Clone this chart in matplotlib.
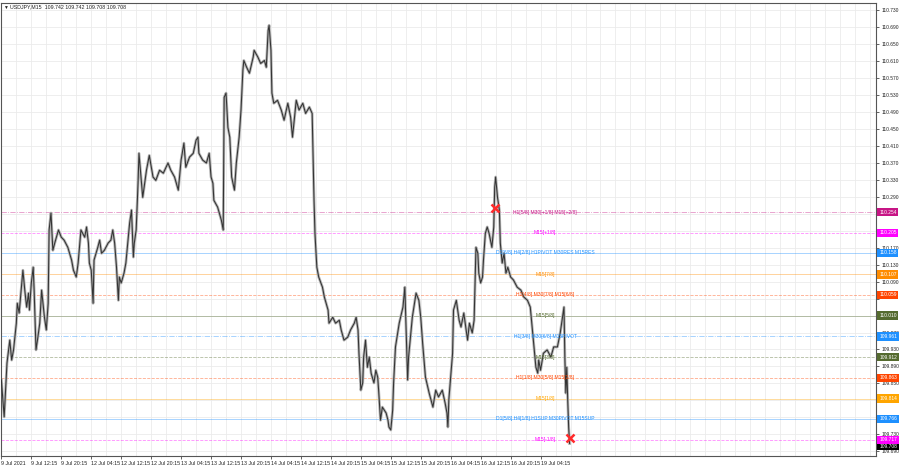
import numpy as np
import matplotlib
matplotlib.use("Agg")
import matplotlib.pyplot as plt
import matplotlib.transforms as mtransforms

plt.rcParams['font.family'] = ['Liberation Sans', 'DejaVu Sans']

# price path (bar index of M15 bars, price)
bars = [0, 3, 6, 9, 11, 13, 16, 17, 19, 23, 25, 27, 29, 30, 32, 34, 35, 37, 39, 41,
        43, 46, 48, 50, 51, 53, 55, 57, 61, 64, 67, 71, 75, 77, 80, 82, 85, 89, 91, 93,
        94, 96, 98, 99, 103, 105, 107, 110, 114, 117, 119, 121, 123, 125, 126, 128, 131, 133, 137, 139,
        141, 142, 144, 146, 147, 151, 155, 158, 162, 165, 169, 173, 178, 181, 185, 189, 192, 195, 197, 201,
        205, 208, 210, 211, 215, 219, 222, 224, 226, 227, 231, 235, 237, 238, 240, 242, 244, 246, 249, 251,
        254, 256, 258, 259, 262, 265, 269, 270, 274, 277, 281, 283, 285, 286, 288, 289, 291, 295, 299, 302,
        306, 309, 311, 315, 318, 322, 325, 329, 332, 333, 334, 335, 337, 339, 343, 345, 349, 350, 354, 357,
        361, 363, 366, 370, 373, 377, 379, 381, 382, 384, 386, 387, 389, 391, 393, 395, 398, 400, 402, 403,
        405, 407, 411, 413, 414, 416, 418, 419, 421, 425, 429, 431, 432, 434, 435, 439, 443, 446, 448, 450,
        453, 457, 461, 464, 467, 471, 474, 476, 477, 478, 482, 483, 486, 489, 491, 494, 498, 500, 503, 505,
        507, 509, 510, 512, 514, 515, 517, 519, 521, 524, 526, 527, 528, 530, 532, 533, 535, 537, 539, 541,
        544, 547, 551, 555, 558, 562, 565, 569, 571, 573, 574, 576, 579, 583, 587, 590, 594, 597, 601, 602,
        603, 604, 605, 606, 607]
prices = [109.858, 109.771, 109.898, 109.952, 109.905, 109.929, 109.992, 110.039, 110.016, 110.117,
          110.070, 110.030, 110.063, 110.023, 110.087, 110.124, 110.070, 109.929, 109.959, 109.992,
          110.070, 110.006, 109.976, 110.039, 110.212, 110.252, 110.164, 110.181, 110.212, 110.195,
          110.188, 110.171, 110.141, 110.117, 110.101, 110.134, 110.212, 110.195, 110.219, 110.181,
          110.134, 110.117, 110.039, 110.141, 110.171, 110.188, 110.157, 110.164, 110.181, 110.188,
          110.212, 110.181, 110.124, 110.046, 110.101, 110.087, 110.110, 110.134, 110.228, 110.259,
          110.148, 110.181, 110.212, 110.322, 110.393, 110.289, 110.353, 110.388, 110.337, 110.329,
          110.353, 110.346, 110.370, 110.353, 110.337, 110.306, 110.377, 110.417, 110.360, 110.384,
          110.393, 110.424, 110.431, 110.393, 110.377, 110.370, 110.393, 110.337, 110.322, 110.282,
          110.266, 110.235, 110.212, 110.525, 110.535, 110.454, 110.431, 110.337, 110.306, 110.370,
          110.431, 110.495, 110.589, 110.612, 110.596, 110.582, 110.620, 110.636, 110.620, 110.605,
          110.612, 110.596, 110.683, 110.695, 110.636, 110.535, 110.511, 110.518, 110.495, 110.471,
          110.511, 110.478, 110.431, 110.518, 110.495, 110.511, 110.487, 110.502, 110.487, 110.384,
          110.282, 110.204, 110.124, 110.101, 110.077, 110.054, 110.023, 109.992, 110.006, 109.992,
          109.999, 109.976, 109.952, 109.959, 109.976, 109.992, 110.006, 109.976, 109.921, 109.834,
          109.851, 109.912, 109.952, 109.888, 109.912, 109.874, 109.851, 109.881, 109.865, 109.834,
          109.763, 109.794, 109.780, 109.763, 109.747, 109.740, 109.787, 109.851, 109.936, 109.992,
          110.030, 110.077, 110.006, 109.858, 109.912, 110.006, 110.063, 110.046, 110.006, 109.945,
          109.865, 109.827, 109.794, 109.834, 109.818, 109.834, 109.804, 109.780, 109.747, 109.811,
          109.921, 110.023, 110.046, 109.999, 109.983, 110.016, 109.952, 109.992, 109.969, 109.999,
          110.171, 110.157, 110.110, 110.087, 110.101, 110.141, 110.204, 110.219, 110.204, 110.171,
          110.219, 110.313, 110.337, 110.289, 110.259, 110.181, 110.134, 110.157, 110.110, 110.124,
          110.101, 110.094, 110.077, 110.070, 110.054, 110.046, 110.030, 109.936, 109.888, 109.874,
          109.905, 109.881, 109.921, 109.929, 109.912, 109.936, 109.936, 109.969, 110.030, 109.905,
          109.827, 109.888, 109.811, 109.747, 109.708]

# Murrey-style levels drawn on the chart
level_prices = [110.254, 110.205, 110.158, 110.107, 110.059, 110.010,
                109.961, 109.912, 109.863, 109.814, 109.766, 109.717]
level_labels = ["H1[5/8] M30[+1/8] M15[+2/8]", "M15[+1/8]",
                "D1[6/8] H4[2/8] H1PIVOT M30RES M15RES", "M15[7/8]",
                "H1[4/8] M30[7/8] M15[6/8]", "M15[5/8]",
                "H1[3/8] M30[6/8] M15PIVOT", "M15[3/8]",
                "H1[1/8] M30[5/8] M15[2/8]", "M15[1/8]",
                "D1[5/8] H4[1/8] H1SUP M30PIVOT M15SUP", "M15[-1/8]"]
level_colors = ["#C71585", "#FF00FF", "#1E90FF", "#FF8C00", "#FF4500", "#556B2F",
                "#1E90FF", "#556B2F", "#FF4500", "#FFA500", "#1E90FF", "#FF00FF"]
level_styles = ["-.", "--", "-", "-", "--", "-", "-.", "--", "--", "-", "-", "--"]

# signal crosses
cross_bars = [527, 607]
cross_prices = [110.264, 109.722]

last_price = 109.708
header = "USDJPY,M15  109.742 109.742 109.708 109.708"

price_ticks = [110.730, 110.690, 110.650, 110.610, 110.570, 110.530, 110.490, 110.450,
               110.410, 110.370, 110.330, 110.290, 110.250, 110.210, 110.170, 110.130,
               110.090, 110.050, 110.010, 109.970, 109.930, 109.890, 109.850, 109.810,
               109.770, 109.730, 109.690]
# tick labels hidden under the level boxes
hidden_ticks = [110.250, 110.210, 110.050, 110.010, 109.810]

tick_labels = ["9 Jul 2021", "9 Jul 12:15", "9 Jul 20:15", "12 Jul 04:15", "12 Jul 12:15",
               "12 Jul 20:15", "13 Jul 04:15", "13 Jul 12:15", "13 Jul 20:15", "14 Jul 04:15",
               "14 Jul 12:15", "14 Jul 20:15", "15 Jul 04:15", "15 Jul 12:15", "15 Jul 20:15",
               "16 Jul 04:15", "16 Jul 12:15", "16 Jul 20:15", "19 Jul 04:15"]

fig = plt.figure(figsize=(9, 4.68), dpi=100)
ax = fig.add_axes([0.001, 0.026, 0.972, 0.967])

ax.set_xlim(-0.5, 934)
ax.set_ylim(109.679, 110.747)

# grid
for gx in np.arange(0, 934, 16):
    ax.axvline(gx, color="#ebebeb", lw=0.6, zorder=0)
for gy in price_ticks:
    ax.axhline(gy, color="#ebebeb", lw=0.6, zorder=0)

# levels
for p, lab, c, ls in zip(level_prices, level_labels, level_colors, level_styles):
    ax.axhline(p, color=c, lw=0.6, ls=ls, alpha=0.45, zorder=1)
    ax.text(581, p, lab, color=c, fontsize=3.6, ha="center", va="center", zorder=4)

# price
ax.plot(bars, prices, color="#b4b4b4", lw=2.0, zorder=2)
ax.plot(bars, prices, color="#333333", lw=0.75, zorder=3)

ax.plot(cross_bars, cross_prices, ls="none", marker="x", color="#FF2A2A",
        ms=6, mew=1.8, zorder=5)

# axes
ax.yaxis.tick_right()
ax.set_yticks(price_ticks)
ax.set_yticklabels(["" if v in hidden_ticks else "%.3f" % v for v in price_ticks])
ax.tick_params(axis="y", labelsize=3.5, length=2, width=0.5, pad=2, colors="#222222")
ax.set_xticks(np.arange(len(tick_labels)) * 32)
ax.set_xticklabels(tick_labels, ha="left")
ax.tick_params(axis="x", labelsize=3.8, length=2, width=0.5, pad=1.5, colors="#222222")
for sp in ax.spines.values():
    sp.set_color("#555555")
    sp.set_linewidth(0.8)

trans = mtransforms.blended_transform_factory(ax.transAxes, ax.transData)
for p, c in zip(level_prices, level_colors):
    ax.text(1.004, p, "%.3f" % p, transform=trans, color="white", fontsize=3.5,
            ha="left", va="center", zorder=6, clip_on=False,
            bbox=dict(boxstyle="square,pad=0.35", fc=c, ec="none"))
ax.text(1.004, last_price - 0.006, "%.3f" % last_price, transform=trans, color="white",
        fontsize=3.5, ha="left", va="center", zorder=5, clip_on=False,
        bbox=dict(boxstyle="square,pad=0.35", fc="black", ec="none"))

fig.text(0.003, 0.985, "\u25bc", fontsize=3.5, va="center", ha="left", color="#222222")
fig.text(0.011, 0.985, header, fontsize=3.8, va="center", ha="left", color="#222222")

fig.savefig("out.png", dpi=100)
